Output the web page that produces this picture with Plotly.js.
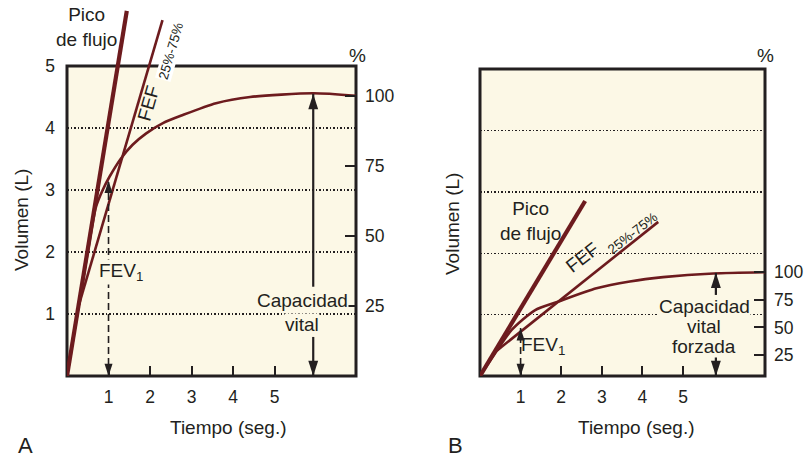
<!DOCTYPE html>
<html><head><meta charset="utf-8">
<script src="https://cdn.plot.ly/plotly-3.0.1.min.js"></script>
<style>html,body{margin:0;padding:0;background:#fff}</style>
</head><body><div id="chart" style="width:809px;height:458px"></div>
<script>
// ---------- data ----------
const timeTicks = [1, 2, 3, 4, 5];
const volTicksA = [1, 2, 3, 4, 5];
const volGridB = [1, 2, 3, 4];
const pctTicks = [25, 50, 75, 100];
const pctLabels = ['25', '50', '75', '100'];

// Panel A (normal)
const curveA_t = [0, 0.28, 0.50, 0.70, 0.86, 1.02, 1.30, 1.58, 1.90, 2.31, 2.79, 3.59, 4.41, 5.93, 6.96];
const curveA_v = [0, 1.13, 2.00, 2.73, 3.00, 3.21, 3.51, 3.73, 3.91, 4.08, 4.21, 4.40, 4.50, 4.56, 4.52];
const peakA_t = [0, 1.44];
const peakA_v = [0, 5.89];
const fefA_t = [0.28, 2.30];
const fefA_v = [1.13, 5.74];
const fev1A_t = [1, 1];
const fev1A_v = [0, 3.15];
const vcA_t = [5.93, 5.93];
const vcA_up = [1.44, 4.55];
const vcA_down = [0.63, 0];

// Panel B (restrictive)
const curveB_t = [0, 0.42, 0.78, 1.35, 1.92, 2.87, 3.69, 4.51, 5.75, 7.02];
const curveB_v = [0, 0.415, 0.75, 1.07, 1.21, 1.43, 1.54, 1.61, 1.67, 1.69];
const peakB_t = [0, 2.59];
const peakB_v = [0, 2.85];
const fefB_t = [0.42, 4.39];
const fefB_v = [0.415, 2.51];
const fev1B_t = [1, 1];
const fev1B_v = [0, 0.78];
const vcB_t = [5.81, 5.81];
const vcB_up = [1.32, 1.68];
const vcB_down = [0.37, 0];

// ---------- styling / geometry ----------
const W = 809, H = 458;
const INK = '#231f20', RED = '#6d1b1e', CREAM = '#fcf8e6';
const FONT = 'Liberation Sans, Arial, Helvetica, sans-serif';
const px = (x) => x / W, py = (y) => 1 - y / H;

const A = {l: 67, r: 356, t: 66, b: 376, xmax: 6.96, ymax: 6.065, pct: [0, 134.3]};
const B = {l: 480, r: 765, t: 69, b: 376, xmax: 7.02, ymax: 6.124, pct: [5.96, 346.9]};

function line(x, y, xa, ya, color, width, dash) {
  return {type: 'scatter', mode: 'lines', x: x, y: y, xaxis: xa, yaxis: ya,
    line: {color: color, width: width, dash: dash || 'solid', shape: 'linear'},
    hoverinfo: 'skip'};
}
function curve(x, y, xa, ya) {
  return {type: 'scatter', mode: 'lines', x: x, y: y, xaxis: xa, yaxis: ya,
    line: {color: RED, width: 2.6, shape: 'spline', smoothing: 0.7}, hoverinfo: 'skip'};
}
function head(x, y, xa, ya, up, size) {
  return {type: 'scatter', mode: 'markers', x: [x], y: [y], xaxis: xa, yaxis: ya,
    marker: {symbol: 'arrow', angle: up ? 0 : 180, size: size, color: INK, line: {width: 0}},
    cliponaxis: false, hoverinfo: 'skip'};
}

const traces = [
  // Panel A
  curve(curveA_t, curveA_v, 'x', 'y'),
  line(fefA_t, fefA_v, 'x', 'y', RED, 2.6),
  line(peakA_t, peakA_v, 'x', 'y', RED, 4.2),
  line(fev1A_t, fev1A_v, 'x', 'y', INK, 1.6, '7px,4px'),
  head(fev1A_t[1], fev1A_v[1], 'x', 'y', true, 13),
  head(fev1A_t[0], fev1A_v[0], 'x', 'y', false, 13),
  line(vcA_t, vcA_up, 'x', 'y', INK, 2.2),
  head(vcA_t[1], vcA_up[1], 'x', 'y', true, 16),
  line(vcA_t, vcA_down, 'x', 'y', INK, 2.2),
  head(vcA_t[1], vcA_down[1], 'x', 'y', false, 16),
  // Panel B
  curve(curveB_t, curveB_v, 'x2', 'y3'),
  line(fefB_t, fefB_v, 'x2', 'y3', RED, 2.6),
  line(peakB_t, peakB_v, 'x2', 'y3', RED, 4.2),
  line(fev1B_t, fev1B_v, 'x2', 'y3', INK, 1.6, '7px,4px'),
  head(fev1B_t[1], fev1B_v[1], 'x2', 'y3', true, 13),
  head(fev1B_t[0], fev1B_v[0], 'x2', 'y3', false, 13),
  line(vcB_t, vcB_up, 'x2', 'y3', INK, 2.2),
  head(vcB_t[1], vcB_up[1], 'x2', 'y3', true, 16),
  line(vcB_t, vcB_down, 'x2', 'y3', INK, 2.2),
  head(vcB_t[1], vcB_down[1], 'x2', 'y3', false, 16)
];

const tickFont = {family: FONT, size: 17.5, color: INK};
function xAxis(P, anchor) {
  return {domain: [px(P.l), px(P.r)], range: [0, P.xmax], anchor: anchor,
    tickvals: timeTicks, ticktext: timeTicks.map(String), ticks: 'inside', ticklen: 10,
    tickwidth: 2, tickcolor: INK, showgrid: false, zeroline: false, showline: false,
    tickfont: tickFont, ticklabelstandoff: 8, fixedrange: true};
}
function yAxis(P, anchor, vals, showLabels) {
  const ax = {domain: [py(P.b), 1], range: [0, P.ymax], anchor: anchor,
    tickvals: vals, showticklabels: showLabels, ticks: '',
    showgrid: true, gridcolor: INK, gridwidth: 1.4, griddash: '1.5px,2px',
    zeroline: false, showline: false, tickfont: tickFont, ticklabelstandoff: 11,
    fixedrange: true};
  if (showLabels) ax.ticktext = vals.map(String);
  return ax;
}
function pctAxis(P, over, anchor) {
  return {overlaying: over, side: 'right', anchor: anchor, range: P.pct,
    tickvals: pctTicks, ticktext: pctLabels, ticks: 'inside', ticklen: 11, tickwidth: 2,
    tickcolor: INK, showgrid: false, zeroline: false, showline: false,
    tickfont: tickFont, ticklabelstandoff: 8, fixedrange: true};
}

function frame(P) {
  return {type: 'rect', xref: 'paper', yref: 'paper', layer: 'below',
    x0: px(P.l), x1: px(P.r), y0: py(P.b), y1: py(P.t),
    fillcolor: CREAM, line: {color: INK, width: 3}};
}

function note(text, x, y, opts) {
  return Object.assign({text: text, x: px(x), y: py(y), xref: 'paper', yref: 'paper',
    showarrow: false, xanchor: 'center', yanchor: 'middle', borderpad: 0,
    font: {family: FONT, size: 19, color: INK}}, opts || {});
}
const small = {family: FONT, size: 13.5, color: INK};
const big = {family: FONT, size: 22, color: INK};

const annotations = [
  // Panel A
  note('Pico<br>de flujo', 86.5, 27),
  note('FEF', 148, 103, {textangle: -74}),
  note('25%-75%', 171.5, 51, {textangle: -74, font: small, bgcolor: '#ffffff'}),
  note('%', 357, 56),
  note('FEV<sub>1</sub>', 121, 272, {bgcolor: CREAM}),
  note('Capacidad', 302, 300, {bgcolor: CREAM}),
  note('vital', 302, 324, {bgcolor: CREAM}),
  note('Volumen (L)', 21, 220, {textangle: -90}),
  note('Tiempo (seg.)', 228, 427),
  note('A', 25, 445, {font: big}),
  // Panel B
  note('Pico<br>de flujo', 530, 221),
  note('FEF', 582, 257, {textangle: -38}),
  note('25%-75%', 632, 233, {textangle: -38, font: small}),
  note('%', 765, 56),
  note('FEV<sub>1</sub>', 543, 346),
  note('Capacidad', 704, 306.5, {bgcolor: CREAM}),
  note('vital', 704, 326, {bgcolor: CREAM}),
  note('forzada', 704, 346, {bgcolor: CREAM}),
  note('Volumen (L)', 452, 224, {textangle: -90}),
  note('Tiempo (seg.)', 636, 427),
  note('B', 455, 445, {font: big})
];

const layout = {
  width: W, height: H, margin: {l: 0, r: 0, t: 0, b: 0, pad: 0},
  paper_bgcolor: '#ffffff', plot_bgcolor: 'rgba(0,0,0,0)', showlegend: false,
  font: {family: FONT, color: INK},
  xaxis: xAxis(A, 'y'),
  yaxis: yAxis(A, 'x', volTicksA, true),
  yaxis2: pctAxis(A, 'y', 'x'),
  xaxis2: xAxis(B, 'y3'),
  yaxis3: yAxis(B, 'x2', volGridB, false),
  yaxis4: pctAxis(B, 'y3', 'x2'),
  shapes: [frame(A), frame(B)],
  annotations: annotations
};

// percent traces (invisible) so the overlaid percent axes are drawn
traces.push({type: 'scatter', mode: 'markers', x: [0], y: [pctTicks[0]], xaxis: 'x', yaxis: 'y2',
  marker: {opacity: 0}, hoverinfo: 'skip'});
traces.push({type: 'scatter', mode: 'markers', x: [0], y: [pctTicks[0]], xaxis: 'x2', yaxis: 'y4',
  marker: {opacity: 0}, hoverinfo: 'skip'});

Plotly.newPlot('chart', traces, layout, {displayModeBar: false, staticPlot: true});
</script>
</body></html>
